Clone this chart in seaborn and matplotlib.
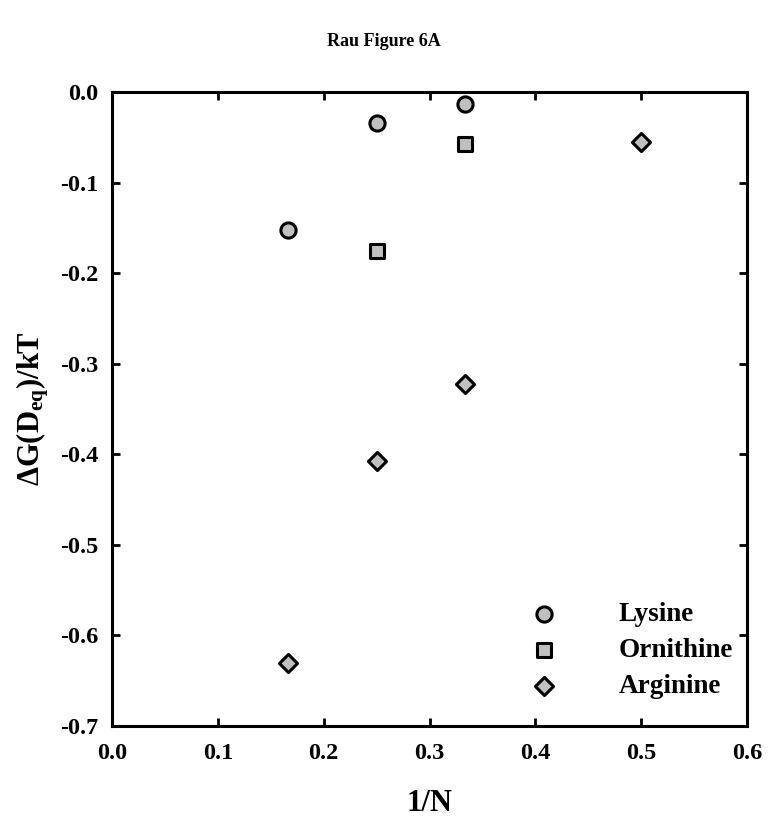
import matplotlib
matplotlib.use("Agg")
import matplotlib.pyplot as plt
import seaborn as sns
import pandas as pd

# Data
lys_x = [1/6, 1/4, 1/3]
lys_y = [-0.152, -0.034, -0.013]
orn_x = [1/4, 1/3]
orn_y = [-0.175, -0.057]
arg_x = [1/6, 1/4, 1/3, 1/2]
arg_y = [-0.630, -0.407, -0.322, -0.055]
series = ["Lysine", "Ornithine", "Arginine"]
xticks = [0.0, 0.1, 0.2, 0.3, 0.4, 0.5, 0.6]
yticks = [0.0, -0.1, -0.2, -0.3, -0.4, -0.5, -0.6, -0.7]

df = pd.concat([
    pd.DataFrame({"x": lys_x, "y": lys_y, "aa": "Lysine"}),
    pd.DataFrame({"x": orn_x, "y": orn_y, "aa": "Ornithine"}),
    pd.DataFrame({"x": arg_x, "y": arg_y, "aa": "Arginine"}),
], ignore_index=True)

sns.set_theme(style="white")
plt.rcParams["font.family"] = ["Liberation Serif", "DejaVu Serif"]
plt.rcParams["font.weight"] = "bold"
plt.rcParams["text.color"] = "black"
plt.rcParams["axes.labelcolor"] = "black"
plt.rcParams["xtick.color"] = "black"
plt.rcParams["ytick.color"] = "black"
plt.rcParams["mathtext.fontset"] = "custom"
plt.rcParams["mathtext.rm"] = "Liberation Serif:bold"
plt.rcParams["mathtext.it"] = "Liberation Serif:bold"
plt.rcParams["mathtext.bf"] = "Liberation Serif:bold"

fig = plt.figure(figsize=(7.68, 8.18), dpi=100)
ax = fig.add_axes([112/768, 1-726/818, 635/768, 634/818])

markers = {"Lysine": "o", "Ornithine": "s", "Arginine": "D"}
sizes = {"Lysine": 120, "Ornithine": 100, "Arginine": 85}
for name in series:
    sub = df[df["aa"] == name]
    sns.scatterplot(data=sub, x="x", y="y", marker=markers[name], s=sizes[name],
                    color="#c0c0c0", edgecolor="black", linewidth=2.2,
                    ax=ax, label=name, zorder=3)

ax.set_xlim(0, 0.6)
ax.set_ylim(-0.7, 0.0)
ax.set_xticks(xticks)
ax.set_yticks(yticks)
ax.set_xticklabels([f"{v:.1f}" for v in xticks])
ax.set_yticklabels([f"{v:.1f}" for v in yticks])
ax.tick_params(axis="both", which="major", direction="in", length=6, width=2,
               top=True, right=True, bottom=True, left=True, labelsize=17.5)
ax.tick_params(axis="x", pad=12)
ax.tick_params(axis="y", pad=10)
for lab in ax.get_xticklabels() + ax.get_yticklabels():
    lab.set_fontweight("bold")
for sp in ax.spines.values():
    sp.set_linewidth(2.2)
    sp.set_color("black")

ax.set_xlabel("1/N", fontsize=22, fontweight="bold", labelpad=18)
ax.set_ylabel(r"ΔG(D$_{\mathrm{eq}}$)/kT", fontsize=22, fontweight="bold", labelpad=6)
fig.text(0.5, 1-42/818, "Rau Figure 6A", ha="center", va="center",
         fontsize=13, fontweight="bold")

leg = ax.legend(loc="lower right", frameon=False, fontsize=19.5, handlelength=2.0,
                handletextpad=1.75, labelspacing=0.42, borderaxespad=0.1,
                borderpad=0.6, bbox_to_anchor=(1.008, 0.012))
for t in leg.get_texts():
    t.set_fontweight("bold")

fig.savefig("out.png", dpi=100)
